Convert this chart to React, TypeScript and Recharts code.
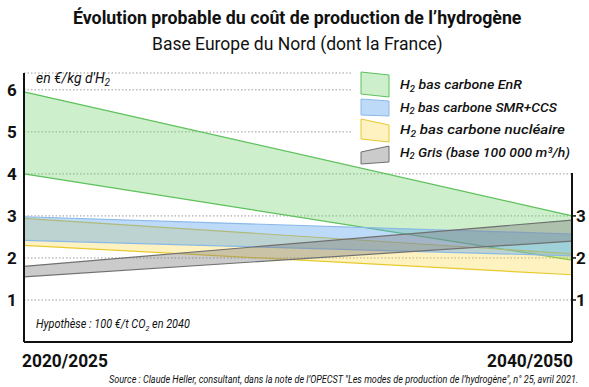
import React from 'react';
import {
  ComposedChart,
  Area,
  XAxis,
  YAxis,
  CartesianGrid,
  ReferenceLine,
  Legend
} from 'recharts';

// two horizons, values in €/kg H2
const periods = ['2020/2025', '2040/2050'];
const enrLow = [4.0, 1.95];
const enrHigh = [5.95, 3.0];
const smrLow = [2.42, 2.05];
const smrHigh = [2.98, 2.57];
const nucLow = [2.3, 1.6];
const nucHigh = [2.94, 2.1];
const grisLow = [1.55, 2.4];
const grisHigh = [1.8, 2.9];
const leftTicks = [1, 2, 3, 4, 5, 6];
const rightTicks = [1, 2, 3];

const data = periods.map((p, i) => ({
  x: i,
  period: p,
  enr: [enrLow[i], enrHigh[i]],
  smr: [smrLow[i], smrHigh[i]],
  nuc: [nucLow[i], nucHigh[i]],
  gris: [grisLow[i], grisHigh[i]]
}));

const FONT = 'Roboto, "Noto Sans", sans-serif';

const series = [
  { key: 'enr', name: 'bas carbone EnR', fill: '#6fd06a', stroke: '#5cc15a', op: 0.35, icon: '9,8 37,11 37,33 9,30', textLen: 122 },
  { key: 'nuc', name: 'bas carbone nucléaire', fill: '#f8d840', stroke: '#e8c92e', op: 0.33, icon: '9,55 37,61 37,78 9,75', textLen: 165 },
  { key: 'smr', name: 'bas carbone SMR+CCS', fill: '#5aa6ee', stroke: '#8ab8e8', op: 0.4, icon: '9,35 37,37 37,52 9,51', textLen: 157 },
  { key: 'gris', name: 'Gris (base 100 000 m³/h)', fill: '#7d7d7d', stroke: '#707070', op: 0.4, icon: '9,88 37,82 37,98 9,100', textLen: 170 }
];
const legendOrder = ['enr', 'smr', 'nuc', 'gris'];
const rowBaselines = [25, 47.5, 70, 92.5];

let measureCtx: CanvasRenderingContext2D | null = null;
function measure(text: string, font: string) {
  if (!measureCtx) measureCtx = document.createElement('canvas').getContext('2d');
  if (!measureCtx) return text.length * 6;
  measureCtx.font = font;
  return measureCtx.measureText(text).width;
}

type Part = { t: string; sub?: boolean };

// text squeezed horizontally to a given width (the original face is condensed)
function FitText({ x, y, width, parts, size, weight = 400, italic = false }: {
  x: number; y: number; width: number; parts: Part[]; size: number; weight?: number; italic?: boolean;
}) {
  const style = italic ? 'italic ' : '';
  const subSize = Math.round(size * 0.68);
  let natural = 0;
  parts.forEach((p) => {
    natural += measure(p.t, `${style}${weight} ${p.sub ? subSize : size}px Roboto`);
  });
  const k = natural > 0 ? width / natural : 1;
  let shifted = false;
  return (
    <g transform={`translate(${x},${y}) scale(${k.toFixed(4)},1)`}>
      <text x={0} y={0} fontFamily={FONT} fontSize={size} fontWeight={weight} fontStyle={italic ? 'italic' : 'normal'} fill="#111">
        {parts.map((p, i) => {
          let dy = 0;
          if (p.sub && !shifted) { dy = size * 0.22; shifted = true; }
          else if (!p.sub && shifted) { dy = -size * 0.22; shifted = false; }
          return (
            <tspan key={i} dy={dy} fontSize={p.sub ? subSize : size} style={{ whiteSpace: 'pre' }}>
              {p.t}
            </tspan>
          );
        })}
      </text>
    </g>
  );
}

function LegendBox() {
  return (
    <svg width={237} height={104} style={{ display: 'block' }}>
      <rect x={0} y={0} width={237} height={101} fill="#fff" />
      {legendOrder.map((key, i) => {
        const s = series.find((d) => d.key === key)!;
        return (
          <g key={s.key}>
            <polygon points={s.icon} fill={s.fill} fillOpacity={s.op} stroke={s.stroke} strokeWidth={1} />
            <FitText
              x={48}
              y={rowBaselines[i]}
              width={s.textLen}
              size={13.5}
              weight={500}
              italic
              parts={[{ t: 'H' }, { t: '2', sub: true }, { t: ' ' + s.name }]}
            />
          </g>
        );
      })}
    </svg>
  );
}

function LeftTick({ y, payload }: any) {
  return (
    <text x={12} y={y + 6} textAnchor="middle" fontFamily={FONT} fontWeight={700} fontSize={17} fill="#111">
      {payload.value}
    </text>
  );
}

function RightTick({ y, payload }: any) {
  return (
    <text x={581} y={y + 6} textAnchor="middle" fontFamily={FONT} fontWeight={700} fontSize={17} fill="#111">
      {payload.value}
    </text>
  );
}

function PeriodTick({ x, y, payload }: any) {
  const first = payload.value === 0;
  return (
    <text
      x={first ? x - 2 : x + 1}
      y={y + 23}
      textAnchor={first ? 'start' : 'end'}
      fontFamily={FONT}
      fontWeight={700}
      fontSize={19}
      fill="#111"
      textLength={86}
      lengthAdjust="spacingAndGlyphs"
    >
      {periods[payload.value]}
    </text>
  );
}

export default function App() {
  return (
    <div style={{ position: 'absolute', left: 0, top: 0, width: 589, height: 387, background: '#fff' }}>
      <ComposedChart width={589} height={387} data={data} margin={{ top: 73, right: 0, bottom: 0, left: 0 }}>
        <CartesianGrid vertical={false} stroke="#9a9a9a" strokeDasharray="1.5 2" yAxisId="left" />
        <XAxis
          type="number"
          dataKey="x"
          domain={[0, 1]}
          ticks={[0, 1]}
          height={45}
          tickSize={0}
          tickLine={false}
          axisLine={{ stroke: '#111', strokeWidth: 2 }}
          tick={<PeriodTick />}
        />
        <YAxis
          yAxisId="left"
          domain={[0, 6.4]}
          ticks={leftTicks}
          width={24}
          tickLine={false}
          axisLine={{ stroke: '#111', strokeWidth: 2 }}
          tick={<LeftTick />}
          allowDataOverflow
        />
        <YAxis
          yAxisId="right"
          orientation="right"
          domain={[0, 6.4]}
          ticks={rightTicks}
          width={17}
          tickSize={4}
          tickLine={{ stroke: '#111', strokeWidth: 1.5 }}
          axisLine={false}
          tick={<RightTick />}
          allowDataOverflow
        />
        <ReferenceLine
          yAxisId="left"
          segment={[{ x: 1, y: 0 }, { x: 1, y: 4.02 }]}
          stroke="#111"
          strokeWidth={2}
        />
        {series.map((s) => (
          <Area
            key={s.key}
            yAxisId="left"
            type="linear"
            dataKey={s.key}
            name={s.name}
            fill={s.fill}
            fillOpacity={s.op}
            stroke={s.stroke}
            strokeWidth={1.2}
            dot={false}
            activeDot={false}
            isAnimationActive={false}
          />
        ))}
        <Legend
          layout="vertical"
          align="center"
          verticalAlign="middle"
          content={<LegendBox />}
          wrapperStyle={{ left: 352, top: 64, width: 237, height: 104 }}
        />
      </ComposedChart>
      <svg
        width={589}
        height={387}
        style={{ position: 'absolute', left: 0, top: 0, pointerEvents: 'none' }}
      >
        <FitText x={73} y={24} width={449} size={19} weight={700} parts={[{ t: 'Évolution probable du coût de production de l’hydrogène' }]} />
        <FitText x={152} y={50} width={291} size={18} parts={[{ t: 'Base Europe du Nord (dont la France)' }]} />
        <FitText x={36} y={83} width={74} size={14} italic parts={[{ t: "en €/kg d'H" }, { t: '2', sub: true }]} />
        <FitText
          x={36}
          y={328}
          width={154}
          size={12}
          italic
          parts={[{ t: 'Hypothèse : 100 €/t CO' }, { t: '2', sub: true }, { t: ' en 2040' }]}
        />
        <FitText
          x={109}
          y={383}
          width={470}
          size={10.5}
          italic
          parts={[{ t: 'Source : Claude Heller, consultant, dans la note de l’OPECST "Les modes de production de l’hydrogène", n° 25, avril 2021.' }]}
        />
      </svg>
    </div>
  );
}
